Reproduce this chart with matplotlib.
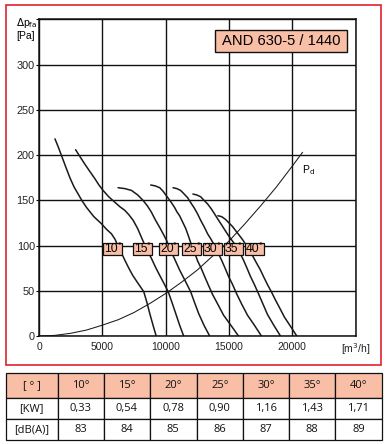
import matplotlib.pyplot as plt
from matplotlib.patches import Rectangle

SALMON = '#f9bea6'
RED = '#e2232b'

# fan curves: airflow [m3/h] and pressure [Pa]
ANGLES = ['10', '15', '20', '25', '30', '35', '40']
Q_10 = [1260, 1520, 1790, 2110, 2440, 2760, 3090, 3420, 3760, 4330, 4940, 5330, 5720, 6000, 6220, 6500, 6770,
        7090, 7400, 7830, 8270, 8520, 8740, 9000, 9250]
P_10 = [218, 209, 199, 187, 175, 165, 157, 149, 142, 132, 124, 118, 113, 107, 100, 92, 84,
        75, 67, 58, 49, 37, 25, 12, 0]
Q_15 = [2890, 3250, 3620, 4010, 4410, 4730, 5060, 5500, 5980, 6380, 6770, 7100, 7430, 7780, 8090, 8430, 8870,
        9200, 9530, 9870, 10200, 10500, 10790, 11100, 11420]
P_15 = [206, 198, 190, 182, 174, 167, 161, 154, 148, 143, 139, 134, 128, 119, 109, 98, 86,
        76, 67, 58, 49, 37, 25, 12, 0]
Q_20 = [6240, 6780, 7300, 7790, 8210, 8550, 8870, 9200, 9530, 9800, 10060, 10320, 10580, 10840, 11100, 11540,
        11970, 12280, 12600, 13020, 13470]
P_20 = [164, 163, 161, 156, 150, 144, 137, 128, 120, 113, 106, 97, 89, 81, 73, 61,
        49, 37, 25, 12, 0]
Q_25 = [8820, 9180, 9530, 9800, 10060, 10380, 10710, 10900, 11100, 11340, 11580, 11810, 12050, 12290, 12520,
        12800, 13070, 13380, 13700, 14120, 14570, 15140, 15750]
P_25 = [167, 166, 164, 160, 155, 149, 142, 137, 133, 126, 119, 110, 100, 92, 83,
        75, 66, 56, 46, 35, 23, 12, 0]
Q_30 = [10580, 10880, 11180, 11460, 11730, 12000, 12280, 12520, 12760, 13030, 13310, 13580, 13860, 14130, 14410,
        14690, 14960, 15280, 15590, 16010, 16460, 17000, 17560]
P_30 = [164, 163, 161, 157, 153, 147, 141, 135, 128, 121, 113, 107, 100, 92, 84,
        75, 66, 57, 47, 35, 23, 12, 0]
Q_35 = [12150, 12450, 12760, 13030, 13310, 13580, 13860, 14130, 14410, 14680, 14960, 15270, 15590, 15860, 16140,
        16420, 16690, 17000, 17320, 17660, 18030, 18530, 19060]
P_35 = [157, 156, 154, 150, 146, 141, 135, 129, 123, 117, 111, 105, 99, 92, 84,
        75, 66, 57, 47, 36, 24, 12, 0]
Q_40 = [14120, 14420, 14720, 15000, 15280, 15550, 15830, 16100, 16380, 16650, 16930, 17200, 17480, 17750, 18030,
        18340, 18660, 19000, 19370, 19840, 20350]
P_40 = [133, 132, 129, 125, 121, 116, 111, 106, 100, 94, 87, 80, 73, 65, 57,
        49, 40, 31, 21, 11, 0]

# dynamic pressure line
Q_PD = [0, 1250, 2500, 3750, 5000, 6250, 7500, 8750, 10000, 11250, 12500, 13750, 15000, 16250, 17500, 18750,
        20000, 20800]
P_PD = [0, 0.7, 3, 6.6, 12, 18, 26, 36, 47, 59.5, 73, 89, 105, 124, 144, 165, 188, 203]

# angle label boxes (centre airflow)
LABEL_Q = [5830, 8180, 10220, 12060, 13690, 15340, 16990]

# table below the chart
TABLE_HEADER = ['[ ° ]', '10°', '15°', '20°', '25°', '30°', '35°', '40°']
KW = ['[KW]', '0,33', '0,54', '0,78', '0,90', '1,16', '1,43', '1,71']
DBA = ['[dB(A)]', '83', '84', '85', '86', '87', '88', '89']

curves = [(Q_10, P_10), (Q_15, P_15), (Q_20, P_20), (Q_25, P_25),
          (Q_30, P_30), (Q_35, P_35), (Q_40, P_40)]

fig = plt.figure(figsize=(3.87, 4.44), dpi=100)

# red frame around the chart
fig.patches.append(Rectangle((0.0155, 0.1779), 0.970, 0.8108, transform=fig.transFigure,
                             fill=False, edgecolor=RED, linewidth=1.2))

ax = fig.add_axes([0.1008, 0.2432, 0.8183, 0.7129])
ax.set_xlim(0, 25000)
ax.set_ylim(0, 350)
ax.set_xticks(range(0, 25001, 5000))
ax.set_yticks(range(0, 351, 50))
ax.set_xticklabels(['0', '5000', '10000', '15000', '20000', '[m$^3$/h]'],
                   fontsize=7.5, family='Liberation Sans', color='#222222')
ax.set_yticklabels(['0', '50', '100', '150', '200', '250', '300', ''],
                   fontsize=7.8, family='Liberation Sans', color='#222222')
ax.tick_params(axis='x', length=0, pad=4)
ax.tick_params(axis='y', length=2, width=0.8, pad=1)
ax.grid(True, color='#111111', linewidth=1.0)
ax.set_axisbelow(True)
for s in ax.spines.values():
    s.set_linewidth(1.1)
    s.set_color('#111111')

for q, p in curves:
    ax.plot(q, p, color='#1a1a1a', linewidth=1.1, solid_capstyle='round', solid_joinstyle='round')
ax.plot(Q_PD, P_PD, color='#1a1a1a', linewidth=0.75)
ax.text(20750, 184, 'P$_\\mathrm{d}$', fontsize=7.5, family='Liberation Sans', va='center')

for qc, a in zip(LABEL_Q, ANGLES):
    ax.add_patch(Rectangle((qc - 750, 89.3), 1500, 14, facecolor=SALMON,
                           edgecolor='#111111', linewidth=0.9, zorder=5))
    ax.text(qc - 130, 96.0, a, ha='center', va='center', fontsize=8.8,
            family='Liberation Sans', zorder=6)
    ax.text(qc + 480, 99.0, '°', ha='center', va='center', fontsize=6.5,
            family='Liberation Sans', zorder=6)

ax.add_patch(Rectangle((13910, 314), 10370, 24, facecolor=SALMON,
                       edgecolor='#111111', linewidth=1.0, zorder=5))
ax.text(19095, 326, 'AND 630-5 / 1440', ha='center', va='center', fontsize=10.6,
        family='Liberation Sans', zorder=6)

# axis caption at the top left
fig.text(16 / 387, 1 - 23 / 444, '$\\Delta$p$_\\mathrm{fa}$', fontsize=7.5, family='Liberation Sans',
         va='center', ha='left')
fig.text(16 / 387, 1 - 36 / 444, '[Pa]', fontsize=7.5, family='Liberation Sans',
         va='center', ha='left')

# table
tab = fig.add_axes([0, 0, 1, 1])
tab.set_xlim(0, 387)
tab.set_ylim(444, 0)
tab.axis('off')
col_x = [6, 57.7, 103.7, 150, 196.7, 243, 289, 335.3, 381.5]
row_y = [373, 398, 419, 439.5]
rows = [TABLE_HEADER, KW, DBA]
for r, row in enumerate(rows):
    for c, val in enumerate(row):
        x0, x1 = col_x[c], col_x[c + 1]
        y0, y1 = row_y[r], row_y[r + 1]
        tab.add_patch(Rectangle((x0, y0), x1 - x0, y1 - y0,
                                facecolor=SALMON if r == 0 else 'white',
                                edgecolor='#111111', linewidth=0.9))
        tab.text((x0 + x1) / 2, (y0 + y1) / 2, val, ha='center', va='center',
                 fontsize=8, family='Open Sans', color='#111111')

fig.savefig('out.png', dpi=100)
